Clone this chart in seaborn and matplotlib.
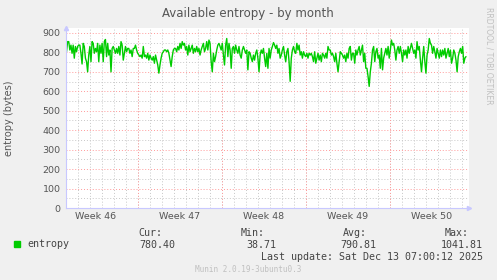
import pandas as pd
import matplotlib
matplotlib.use('Agg')
import matplotlib.pyplot as plt
import matplotlib.dates as mdates
from matplotlib.ticker import MultipleLocator, NullFormatter
import seaborn as sns

# data (bytes), evenly spaced in time
start = '2025-11-11 01:00'
end = '2025-12-14 08:00'
entropy = [
    803, 855, 855, 812, 837, 795, 837, 770, 830, 803, 830, 837, 837, 795, 740, 846,
    830, 770, 752, 700, 786, 830, 752, 855, 846, 795, 820, 803, 846, 752, 837, 795,
    846, 752, 855, 866, 778, 846, 786, 812, 700, 820, 830, 812, 795, 820, 795, 830,
    786, 855, 837, 760, 795, 830, 803, 820, 820, 795, 812, 778, 820, 820, 837, 812,
    795, 786, 778, 786, 770, 830, 778, 786, 770, 795, 760, 786, 770, 760, 778, 744,
    786, 760, 735, 693, 735, 770, 795, 803, 812, 812, 803, 812, 795, 760, 727, 778,
    812, 820, 820, 803, 830, 812, 846, 820, 855, 837, 846, 812, 830, 786, 837, 803,
    820, 837, 795, 820, 803, 830, 803, 820, 786, 812, 830, 846, 803, 820, 855, 812,
    863, 846, 752, 700, 795, 752, 778, 812, 837, 846, 830, 812, 846, 786, 735, 837,
    871, 778, 846, 812, 718, 820, 830, 795, 837, 812, 795, 830, 786, 770, 812, 830,
    812, 795, 812, 710, 803,
    795, 770, 752, 786, 760, 795, 812, 770, 700, 786, 812, 795, 820, 770, 727, 795,
    718, 820, 770, 812, 830, 850, 837, 820, 837, 795, 820, 770, 786, 812, 830, 786,
    752, 803, 820, 752, 651, 770, 812, 830, 803, 795, 846, 812, 837, 786, 803, 770,
    803, 786, 778, 795, 770, 795, 786, 795, 778, 752, 803, 744, 770, 795, 760, 786,
    752, 795, 786, 770, 795, 770, 830, 812, 812, 786, 795, 778, 752, 795, 744, 700,
    752, 803, 795, 786, 770, 786, 752, 795, 770, 820, 830, 760, 795, 795, 744, 812,
    786, 812, 830, 786, 812, 837, 752, 795, 718, 718, 676, 625, 700, 744, 812, 830,
    752, 803, 820, 770, 786, 718, 820, 710, 770, 795, 820, 786, 830, 770, 812, 863,
    837, 846, 812, 760, 812, 830, 795, 830, 795, 752, 812, 786, 812, 770, 830, 795,
    820, 846, 820, 795, 812, 770, 855, 812, 830, 760, 700, 770, 830, 752, 693, 786,
    812, 871, 846, 837, 795, 830, 803, 770, 820, 795, 770, 812, 778, 812, 786, 820,
    770, 795, 820, 778, 812, 744, 770, 812, 795, 760, 700, 778, 803, 820, 795, 830,
    744, 770, 778,
]
week_mid = ['2025-11-13 12:00', '2025-11-20 12:00', '2025-11-27 12:00',
            '2025-12-04 12:00', '2025-12-11 12:00']
week_labels = ['Week 46', 'Week 47', 'Week 48', 'Week 49', 'Week 50']
week_start = ['2025-11-17', '2025-11-24', '2025-12-01', '2025-12-08']

df = pd.DataFrame({'time': pd.date_range(start, end, periods=len(entropy)),
                   'entropy': entropy})

sns.set_style('white')
plt.rcParams['font.family'] = ['DejaVu Sans']

W, H = 497, 280
fig = plt.figure(figsize=(W / 100, H / 100), dpi=100, facecolor='#f0f0f0')
ax = fig.add_axes([66 / W, 72 / H, (469 - 66) / W, 180 / H])
ax.set_facecolor('white')

sns.lineplot(data=df, x='time', y='entropy', ax=ax, color='#00cc00', linewidth=1.0)

ax.set_xlim(pd.Timestamp('2025-11-11 00:00'), pd.Timestamp('2025-12-14 14:00'))
ax.set_ylim(0, 925)

# y grid
ax.yaxis.set_major_locator(MultipleLocator(100))
ax.yaxis.set_minor_locator(MultipleLocator(50))
ax.grid(which='major', axis='y', color='#ff9a9a', linestyle=(0, (1, 2)), linewidth=0.7)
ax.grid(which='minor', axis='y', color='#c8c8c8', linestyle=(0, (1, 2)), linewidth=0.7)
ax.set_yticks(range(0, 901, 100))

# x grid: days grey, week starts red
ax.xaxis.set_minor_locator(mdates.DayLocator())
ax.xaxis.set_minor_formatter(NullFormatter())
ax.grid(which='minor', axis='x', color='#c8c8c8', linestyle=(0, (1, 2)), linewidth=0.7)
for ws in week_start:
    ax.axvline(pd.Timestamp(ws), color='#ff9a9a', linestyle=(0, (1, 2)), linewidth=0.7, zorder=1)
ax.set_xticks([pd.Timestamp(w) for w in week_mid])
ax.set_xticklabels(week_labels)

ax.tick_params(axis='x', which='major', length=0, labelsize=6.8, colors='#555555', pad=3)
ax.tick_params(axis='x', which='minor', length=0)
ax.tick_params(axis='y', which='major', length=2, labelsize=6.8, colors='#555555',
               pad=2, color='#ff9a9a')
ax.tick_params(axis='y', which='minor', length=0)

for s in ['top', 'right']:
    ax.spines[s].set_visible(False)
for s in ['left', 'bottom']:
    ax.spines[s].set_color('#c8c8ff')
    ax.spines[s].set_linewidth(0.8)
ax.plot(1.0, 0, '>', color='#c8c8ff', markersize=3, transform=ax.transAxes, clip_on=False)
ax.plot(0, 1.0, '^', color='#c8c8ff', markersize=3, transform=ax.transAxes, clip_on=False)

ax.set_xlabel('')
ax.set_ylabel('entropy (bytes)', fontsize=7, color='#555555')
ax.yaxis.set_label_coords(-52 / 403, 0.5)

def px(x, y):
    return x / W, 1 - y / H

fig.text(*px(248, 13), 'Available entropy - by month', ha='center', va='center',
         fontsize=8.5, color='#555555')
fig.text(*px(489, 56), 'RRDTOOL / TOBI OETIKER', ha='center', va='center',
         rotation=270, fontsize=5.5, color='#c0c0c0')

mono = dict(family='DejaVu Sans Mono', fontsize=7.2, color='#444444', va='center')
fig.patches.append(plt.Rectangle(px(14, 247), 6 / W, 6 / H, transform=fig.transFigure,
                                 color='#00cc00', figure=fig))
fig.text(*px(27, 244), 'entropy', **mono)
fig.text(*px(162, 233), 'Cur:', ha='right', **mono)
fig.text(*px(175, 245), '780.40', ha='right', **mono)
fig.text(*px(265, 233), 'Min:', ha='right', **mono)
fig.text(*px(276, 245), '38.71', ha='right', **mono)
fig.text(*px(367, 233), 'Avg:', ha='right', **mono)
fig.text(*px(376, 245), '790.81', ha='right', **mono)
fig.text(*px(469, 233), 'Max:', ha='right', **mono)
fig.text(*px(483, 245), '1041.81', ha='right', **mono)
fig.text(*px(483, 257), 'Last update: Sat Dec 13 07:00:12 2025', ha='right', **mono)
fig.text(*px(248, 270), 'Munin 2.0.19-3ubuntu0.3', ha='center', va='center',
         family='DejaVu Sans Mono', fontsize=5.5, color='#c0c0c0')

fig.savefig('out.png', dpi=100, facecolor=fig.get_facecolor())
